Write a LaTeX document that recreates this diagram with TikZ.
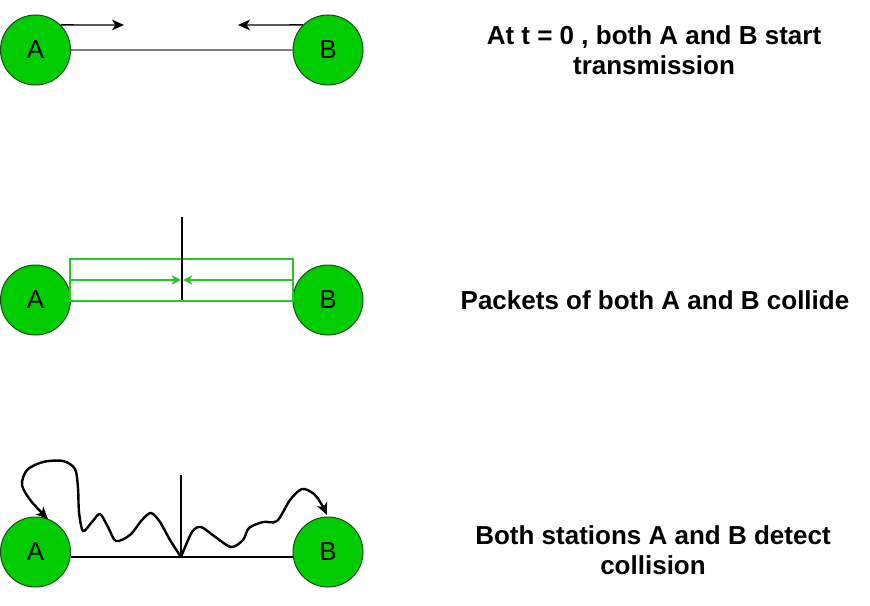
\documentclass[tikz,border=0pt]{standalone}
\usepackage{fontspec}
\setmainfont{Liberation Sans}
\usetikzlibrary{arrows.meta}
\definecolor{stationgreen}{RGB}{0,204,0}
\definecolor{stationline}{RGB}{25,75,25}
\definecolor{packetgreen}{RGB}{40,200,40}
\definecolor{wiregray}{RGB}{128,128,128}
\tikzset{
    station/.style={circle,draw=stationline,fill=stationgreen,line width=0.75pt,
        minimum size=52.5pt,inner sep=0pt,font=\fontsize{19.5}{22}\selectfont},
    caption/.style={align=center,font=\fontsize{19.5}{22.5}\selectfont\bfseries},
    tip/.style={-{Stealth[length=9pt,width=8pt,inset=2.5pt]}},
    smalltip/.style={-{Stealth[length=7pt,width=7pt,inset=2pt]}}
}

\begin{document}
\begin{tikzpicture}[x=0.75pt,y=-0.75pt]
    \useasboundingbox (0,0) rectangle (870,606);
    % at t = 0
    \node[station] (a1) at (35.5,50) {A};
    \node[station] (b1) at (328,50) {B};
    \coordinate (a1end) at (124,25);
    \coordinate (b1end) at (238,25);
    \draw[wiregray,line width=2pt] (a1) -- (b1);
    \draw[tip,line width=1pt] (a1.45) -- (a1end);
    \draw[tip,line width=1pt] (b1.135) -- (b1end);
    \node[caption] (t1) at (654,50) {At t = 0 , both A and B start\\transmission};
    % collision
    \node[station] (a2) at (35.5,300) {A};
    \node[station] (b2) at (328,300) {B};
    \coordinate (p0) at (70,259);
    \coordinate (p1) at (293,301);
    \coordinate (pa) at (70,280);
    \coordinate (pb) at (293,280);
    \coordinate (pm0) at (181,280);
    \coordinate (pm1) at (183,280);
    \coordinate (c0) at (182,217);
    \coordinate (c1) at (182,300);
    \draw[packetgreen,line width=0.9pt] (p0) rectangle (p1);
    \draw[packetgreen,smalltip,line width=0.9pt] (pa) -- (pm0);
    \draw[packetgreen,smalltip,line width=0.9pt] (pb) -- (pm1);
    \draw[line width=1.8pt] (c0) -- (c1);
    \node[caption] (t2) at (655,300) {Packets of both A and B collide};
    % detection
    \node[station] (a3) at (35.5,552) {A};
    \node[station] (b3) at (328,552) {B};
    \coordinate (d0) at (181,475);
    \coordinate (d1) at (181,557);
    \draw[line width=1.3pt] (a3.-8) -- (b3.188);
    \draw[line width=1.3pt] (d0) -- (d1);
    \draw[tip,line width=1.8pt] plot[smooth] coordinates {(181,557) (170,540) (160,522)
        (151,513) (142,520) (130,535) (116,541) (108,527) (100,514) (92,522)
        (83,531) (79,512) (78,488) (75,469) (63,461) (43,462) (27,470)
        (22,485) (31,501) (48,519)};
    \draw[tip,line width=1.8pt] plot[smooth] coordinates {(181,557) (192,532)
        (201,527) (214,536) (231,547) (243,540) (249,528) (263,522) (277,521)
        (290,500) (302,489) (314,494) (322,505) (327,515)};
    \node[caption] (t3) at (653,550) {Both stations A and B detect\\collision};
\end{tikzpicture}
\end{document}
